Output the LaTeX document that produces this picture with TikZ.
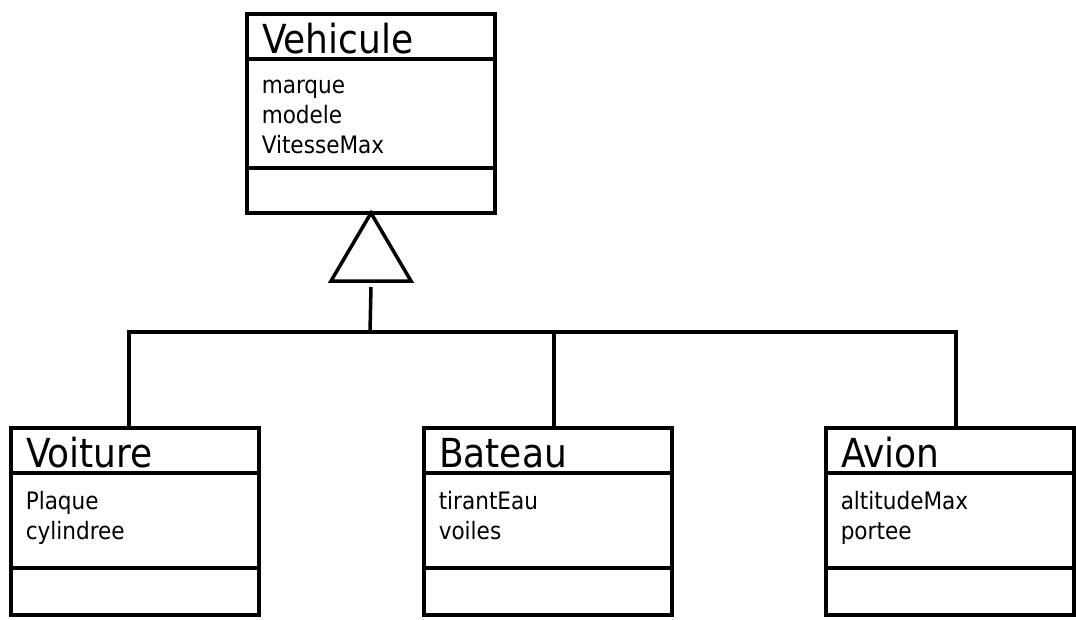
\documentclass[tikz,border=0pt]{standalone}
\usepackage{fontspec}
\setmainfont{DejaVu Sans Condensed}
\usetikzlibrary{positioning}

\begin{document}
\begin{tikzpicture}[x=1pt,y=-1pt,line width=3.5pt]
\tikzset{ClassBox/.style =
	{draw,
		shape = rectangle,
		outer sep = 0pt,
		inner xsep = 15pt,
		inner ysep = 0pt,
		text width = 218pt,
		align = left},
	ClassName/.style = {ClassBox, minimum height = 45pt,
		text height = 36pt, text depth = 3pt,
		font = \fontsize{40pt}{40pt}\selectfont},
	ClassPart/.style = {ClassBox, minimum height = #1},
	AttrText/.style = {inner sep = 0pt, align = left,
		execute at begin node = \strut,
		font = \fontsize{24pt}{30pt}\selectfont}}
\useasboundingbox (0,0) rectangle (1076,619);
%\draw[help lines] (0,0) grid (1076,619);
\node[ClassName, anchor=north west] (veh) at (247,14) {Vehicule};
\node[ClassPart=109pt, below=0pt of veh] (veh-a) {};
\node[ClassPart=45pt, below=0pt of veh-a] (veh-o) {};
\node[AttrText, below right=19pt and 13pt of veh-a.north west] (veh-t) {marque\\modele\\VitesseMax};
\node[ClassName, anchor=north west] (voi) at (11,428) {Voiture};
\node[ClassPart=95pt, below=0pt of voi] (voi-a) {};
\node[ClassPart=47pt, below=0pt of voi-a] (voi-o) {};
\node[AttrText, below right=17pt and 13pt of voi-a.north west] (voi-t) {Plaque\\cylindree};
\node[ClassName, anchor=north west] (bat) at (424,428) {Bateau};
\node[ClassPart=95pt, below=0pt of bat] (bat-a) {};
\node[ClassPart=47pt, below=0pt of bat-a] (bat-o) {};
\node[AttrText, below right=17pt and 13pt of bat-a.north west] (bat-t) {tirantEau\\voiles};
\node[ClassName, anchor=north west] (avi) at (826,428) {Avion};
\node[ClassPart=95pt, below=0pt of avi] (avi-a) {};
\node[ClassPart=47pt, below=0pt of avi-a] (avi-o) {};
\node[AttrText, below right=17pt and 13pt of avi-a.north west] (avi-t) {altitudeMax\\portee};
% heritage
\coordinate (bar-l) at (129,332);
\coordinate (bar-m) at (554,332);
\coordinate (bar-r) at (956,332);
\coordinate (hub) at (370,332);
\draw (veh-o.south) -- ++(-40,68) -- ++(80,0) -- cycle;
\draw (veh-o.south) ++(0,74) -- (hub);
\draw (voi.north -| bar-l) -- (bar-l) -- (bar-r) -- (avi.north -| bar-r);
\draw (bat.north -| bar-m) -- (bar-m);
\end{tikzpicture}
\end{document}
